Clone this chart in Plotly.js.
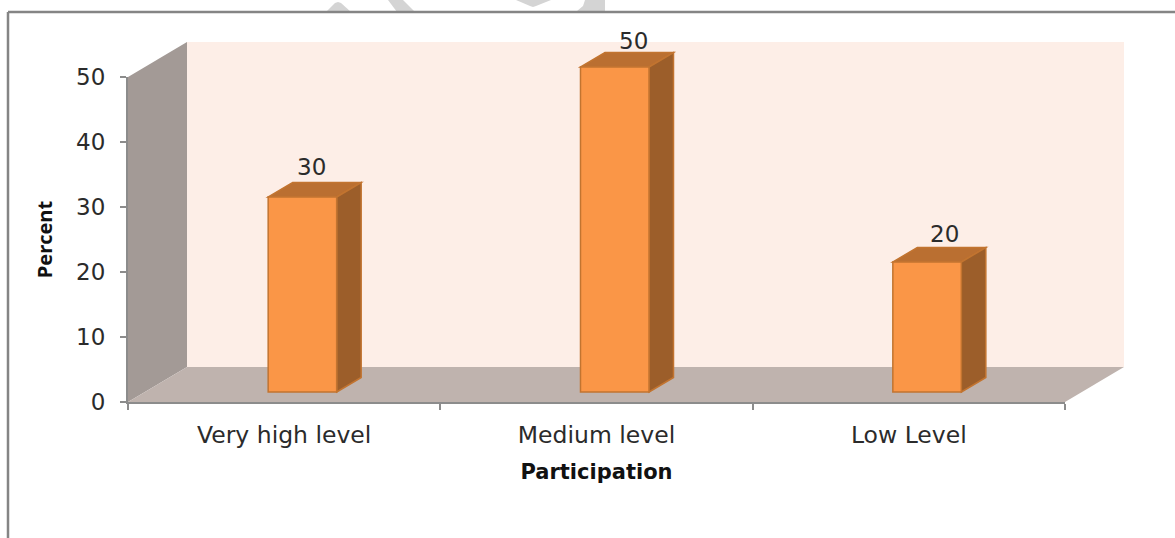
<!DOCTYPE html>
<html>
<head>
<meta charset="utf-8">
<script src="https://cdn.plot.ly/plotly-3.0.1.min.js"></script>
<style>html,body{margin:0;padding:0;background:#fff}</style>
</head>
<body>
<div id="chart" style="width:1175px;height:538px"></div>
<script>
// Participation levels and their share in percent
const categories = ["Very high level", "Medium level", "Low Level"];
const percentValues = [30, 50, 20];
const valueTicks = [0, 10, 20, 30, 40, 50];

// Canvas and plot box, in pixels
const W = 1175, H = 538;
const plotLeft = 128, plotRight = 1065, plotBottom = 402, plotTop = 77;
// Receding depth of the box walls and floor
const depthX = 59, depthY = 35;
const pxPerCat = (plotRight - plotLeft) / categories.length;
const pxPerUnit = (plotBottom - plotTop) / 50;

// Scene axes cover the front plot plus the receding depth
const sceneX = [-0.5, categories.length - 0.5 + depthX / pxPerCat];
const sceneY = [0, (plotBottom - plotTop + depthY) / pxPerUnit];
const dX = depthX / pxPerCat, dY = depthY / pxPerUnit;

// Bars stand a little in from the front of the floor
const barBase = 10 / pxPerUnit;
const barWidth = 68.5 / pxPerCat;
const barOffset = -16 / pxPerCat;
const barDX = 24.5 / pxPerCat, barDY = 14.5 / pxPerUnit;

const colors = {
  front: "#FA9647", outline: "#C27430", top: "#BA6F31", side: "#9C5E2A",
  back: "#FDEEE7", floor: "#BFB3AE", wall: "#A39A96", axis: "#8C8C8C",
  frame: "#858585", text: "#2B2B2B", mark: "#D4D4D4"
};

function poly(points) {
  return "M" + points.map(p => p[0] + "," + p[1]).join("L") + "Z";
}
function scenePoly(points, fill, line) {
  return {
    type: "path", xref: "x", yref: "y", layer: "below", path: poly(points),
    fillcolor: fill, line: line ? {color: line, width: 1.5} : {width: 0}
  };
}

const x0 = -0.5, x1 = categories.length - 0.5, top50 = 50;
const shapes = [
  scenePoly([[x0 + dX, dY], [x1 + dX, dY], [x1 + dX, top50 + dY], [x0 + dX, top50 + dY]], colors.back),
  scenePoly([[x0, 0], [x0 + dX, dY], [x0 + dX, top50 + dY], [x0, top50]], colors.wall),
  scenePoly([[x0, 0], [x1, 0], [x1 + dX, dY], [x0 + dX, dY]], colors.floor)
];

// Top and side faces of each bar follow its value
percentValues.forEach((v, i) => {
  const L = i + barOffset, R = L + barWidth, B = barBase, T = barBase + v;
  shapes.push(scenePoly([[L, T], [R, T], [R + barDX, T + barDY], [L + barDX, T + barDY]], colors.top, colors.outline));
  shapes.push(scenePoly([[R, B], [R + barDX, B + barDY], [R + barDX, T + barDY], [R, T]], colors.side, colors.outline));
});

// Pale grey page marks along the top edge, given in page pixels
function pagePoly(points) {
  return {
    type: "path", xref: "paper", yref: "paper", layer: "below",
    path: poly(points.map(p => [p[0] / W, 1 - p[1] / H])),
    fillcolor: colors.mark, line: {width: 0}
  };
}
const pageMarks = [
  [[326, 12], [335, 3], [338, 2], [341, 3], [351, 12]],
  [[388, 0], [403, 0], [415, 12], [397, 12]],
  [[516, 0], [551, 0], [536, 6], [533, 7], [530, 6]],
  [[577, 11], [583, 6], [585, 0], [605, 0], [605, 12], [577, 12]]
].map(pagePoly);

// Outer frame: top and left edges only
const pageShapes = pageMarks.concat([
  {type: "line", xref: "paper", yref: "paper", x0: 8 / W, x1: 1, y0: 1 - 12 / H, y1: 1 - 12 / H, line: {color: colors.frame, width: 2.5}},
  {type: "line", xref: "paper", yref: "paper", x0: 8 / W, x1: 8 / W, y0: 0, y1: 1 - 12 / H, line: {color: colors.frame, width: 2.5}}
]);

const labelShiftX = [27, 37, 36];
const labelShiftY = [40, 36, 38];

const traces = [{
  type: "bar",
  x: categories.map((_, i) => i),
  y: percentValues,
  base: barBase,
  width: barWidth,
  offset: barOffset,
  xaxis: "x", yaxis: "y",
  marker: {color: colors.front, line: {color: colors.outline, width: 1.5}},
  cliponaxis: false,
  hoverinfo: "skip"
}, {
  // Carries the labelled front axes; it paints nothing itself
  type: "scatter",
  mode: "none",
  x: categories,
  y: percentValues,
  xaxis: "x2", yaxis: "y2",
  hoverinfo: "skip"
}];

const layout = {
  width: W, height: H,
  autosize: false,
  margin: {l: 0, r: 0, t: 0, b: 0},
  paper_bgcolor: "#fff",
  plot_bgcolor: "rgba(0,0,0,0)",
  showlegend: false,
  font: {family: "'DejaVu Sans', sans-serif", color: colors.text},
  // Scene axes: everything is drawn against these, and they stay hidden
  xaxis: {
    type: "linear", visible: false, fixedrange: true, range: sceneX,
    domain: [plotLeft / W, (plotRight + depthX) / W], anchor: "y"
  },
  yaxis: {
    type: "linear", visible: false, fixedrange: true, range: sceneY,
    domain: [1 - plotBottom / H, 1 - (plotTop - depthY) / H], anchor: "x"
  },
  // Labelled axes along the front edges of the box
  xaxis2: {
    type: "category", categoryorder: "array", categoryarray: categories,
    range: [-0.5, categories.length - 0.5], fixedrange: true,
    domain: [plotLeft / W, plotRight / W], anchor: "y2",
    tickson: "boundaries", ticks: "outside", ticklen: 6, tickwidth: 2, tickcolor: colors.axis,
    showline: true, linecolor: colors.axis, linewidth: 2, showgrid: false, zeroline: false,
    tickfont: {family: "'DejaVu Sans', sans-serif", size: 23.5, color: colors.text},
    ticklabelstandoff: 11,
    title: {text: "<b>Participation</b>", standoff: 16,
            font: {family: "'DejaVu Sans', sans-serif", size: 21, color: "#111"}}
  },
  yaxis2: {
    type: "linear", range: [0, 50], fixedrange: true,
    domain: [1 - plotBottom / H, 1 - plotTop / H], anchor: "x2",
    tickmode: "array", tickvals: valueTicks, ticktext: valueTicks.map(String),
    ticks: "outside", ticklen: 6, tickwidth: 2, tickcolor: colors.axis,
    showline: true, linecolor: colors.axis, linewidth: 2, showgrid: false, zeroline: false,
    tickfont: {family: "'DejaVu Sans', sans-serif", size: 23, color: colors.text},
    ticklabelstandoff: 10,
    title: {text: "<b>Percent</b>", standoff: 18,
            font: {family: "'Open Sans', sans-serif", size: 20, color: "#111"}}
  },
  shapes: shapes.concat(pageShapes),
  annotations: percentValues.map((v, i) => ({
    xref: "x", yref: "y", x: i, y: v, text: String(v), showarrow: false,
    xshift: labelShiftX[i], yshift: labelShiftY[i],
    font: {family: "'DejaVu Sans', sans-serif", size: 23, color: colors.text}
  }))
};

Plotly.newPlot("chart", traces, layout, {displayModeBar: false, staticPlot: true});
</script>
</body>
</html>
